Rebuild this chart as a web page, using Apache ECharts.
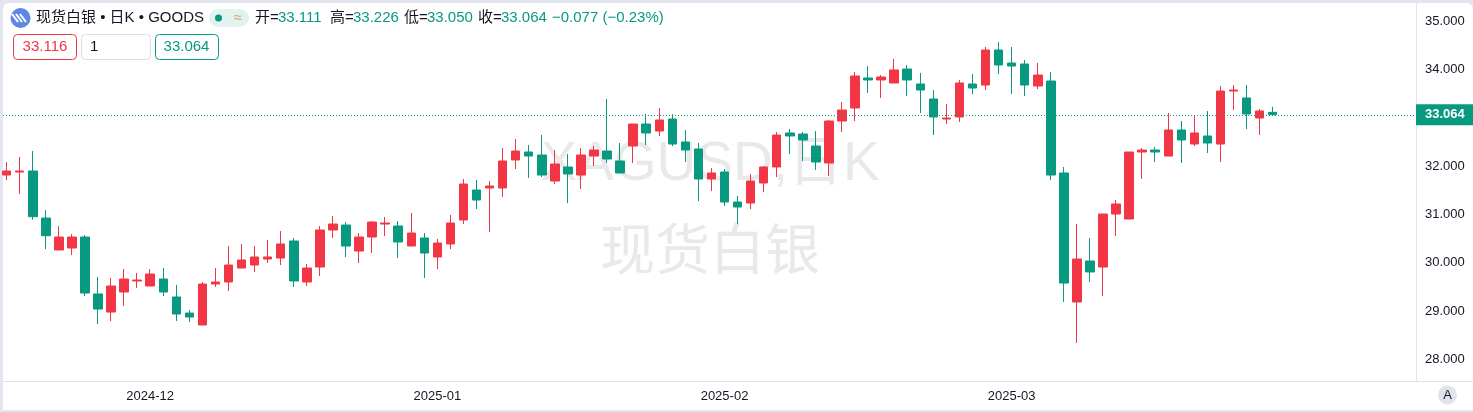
<!DOCTYPE html>
<html>
<head>
<meta charset="utf-8">
<title>现货白银</title>
<script src="https://cdn.jsdelivr.net/npm/echarts@6/dist/echarts.min.js"></script>
<style>
    html, body { margin: 0; padding: 0; width: 1473px; height: 412px; overflow: hidden; background: #e3e6ef; }
    #card { position: absolute; left: 3px; top: 3px; width: 1470px; height: 407px; background: #fff; border-radius: 6px 6px 0 0; }
    #chart { position: absolute; left: 0; top: 0; width: 1473px; height: 412px; }
</style>
</head>
<body>
<div id="card"></div>
<div id="chart"></div>
<script>
const opens = [
    31.815, 31.877, 31.898, 30.926, 30.265, 30.306, 30.533, 29.355, 28.982, 29.396,
    29.624, 29.520, 29.665, 29.293, 28.961, 28.714, 29.561, 29.603, 29.892, 29.954,
    30.078, 30.099, 30.451, 29.603, 29.913, 30.678, 30.781, 30.244, 30.533, 30.802,
    30.761, 30.347, 30.513, 30.120, 30.389, 30.885, 31.505, 31.547, 31.547, 32.126,
    32.291, 32.229, 31.691, 31.981, 31.815, 32.208, 32.312, 32.105, 32.415, 32.870,
    32.725, 32.973, 32.498, 32.353, 31.733, 31.877, 31.257, 31.236, 31.650, 31.981,
    32.684, 32.663, 32.415, 32.063, 32.932, 33.201, 33.821, 33.780, 33.718, 34.007,
    33.697, 33.387, 32.973, 33.015, 33.697, 33.676, 34.400, 34.131, 34.111, 33.656,
    33.759, 31.857, 29.189, 30.037, 29.913, 31.009, 30.906, 32.291, 32.332, 32.208,
    32.746, 32.456, 32.622, 32.456, 33.552, 33.408, 32.994, 33.111
];
const closes = [
    31.898, 31.898, 30.953, 30.560, 30.533, 30.533, 29.375, 29.044, 29.520, 29.665,
    29.644, 29.768, 29.396, 28.941, 28.879, 29.561, 29.603, 29.954, 30.058, 30.120,
    30.120, 30.389, 29.624, 29.892, 30.678, 30.802, 30.347, 30.533, 30.843, 30.823,
    30.430, 30.616, 30.203, 30.409, 30.823, 31.629, 31.298, 31.588, 32.105, 32.312,
    32.208, 31.815, 32.043, 31.836, 32.229, 32.332, 32.146, 31.857, 32.870, 32.684,
    32.953, 32.456, 32.332, 31.733, 31.857, 31.257, 31.154, 31.691, 31.981, 32.642,
    32.622, 32.539, 32.084, 32.932, 33.159, 33.862, 33.780, 33.842, 33.987, 33.780,
    33.573, 33.015, 32.994, 33.718, 33.614, 34.400, 34.090, 34.069, 33.676, 33.883,
    31.815, 29.582, 30.078, 29.810, 31.009, 31.216, 32.291, 32.332, 32.291, 32.746,
    32.539, 32.684, 32.477, 33.552, 33.573, 33.077, 33.139, 33.064
];
const lows = [
    31.712, 31.422, 30.891, 30.285, 30.265, 30.161, 29.313, 28.734, 28.796, 29.107,
    29.479, 29.520, 29.313, 28.796, 28.776, 28.714, 29.499, 29.417, 29.892, 29.810,
    29.996, 29.954, 29.499, 29.520, 29.727, 30.513, 30.120, 29.996, 30.203, 30.554,
    30.099, 30.347, 29.686, 29.872, 30.285, 30.802, 31.112, 30.637, 31.361, 31.940,
    31.753, 31.774, 31.629, 31.236, 31.526, 32.001, 32.063, 31.857, 32.063, 32.436,
    32.622, 32.415, 32.084, 31.278, 31.484, 31.174, 30.802, 31.112, 31.464, 31.774,
    32.250, 32.105, 31.919, 31.795, 32.705, 32.932, 33.511, 33.408, 33.718, 33.449,
    33.097, 32.642, 32.870, 32.911, 33.490, 33.573, 33.904, 33.490, 33.449, 33.594,
    31.712, 29.189, 28.341, 29.603, 29.313, 30.554, 30.906, 31.733, 32.084, 32.208,
    32.063, 32.415, 32.270, 32.084, 33.159, 32.767, 32.642, 33.050
];
const highs = [
    32.084, 32.188, 32.312, 31.092, 30.761, 30.595, 30.575, 29.706, 29.686, 29.872,
    29.789, 29.872, 29.892, 29.541, 29.024, 29.603, 29.892, 30.347, 30.389, 30.347,
    30.471, 30.657, 30.513, 29.975, 30.761, 30.968, 30.843, 30.616, 30.864, 30.947,
    30.864, 31.030, 30.616, 30.492, 30.988, 31.733, 31.712, 31.691, 32.374, 32.560,
    32.436, 32.642, 32.332, 32.250, 32.374, 32.415, 33.387, 32.477, 32.870, 33.077,
    33.201, 33.077, 32.746, 32.477, 31.960, 31.940, 31.381, 31.836, 32.001, 32.705,
    32.767, 32.705, 32.725, 32.953, 33.325, 33.945, 34.069, 33.883, 34.214, 34.090,
    33.925, 33.573, 33.284, 33.780, 33.904, 34.462, 34.566, 34.462, 34.193, 34.131,
    33.945, 31.981, 30.802, 30.513, 31.009, 31.298, 32.291, 32.374, 32.394, 33.097,
    32.932, 33.035, 33.139, 33.656, 33.676, 33.676, 33.180, 33.226
];
const priceTicks = [28, 29, 30, 31, 32, 33, 34, 35];
const monthTickIndex = [11, 33, 55, 77];
const monthTickLabels = ["2024-12", "2025-01", "2025-02", "2025-03"];
const lastPrice = 33.064;

const UP = "#F23645";
const DOWN = "#089981";
const INK = "#131722";
const LINE = "#e0e3eb";
const FONT = "'Liberation Sans','Noto Sans CJK SC',sans-serif";

function label(x, y, text, fill, size, align) {
    return {
        type: "text",
        z: 10,
        style: {
            x: x,
            y: y,
            text: text,
            fill: fill,
            font: (size || 15) + "px " + FONT,
            textAlign: align || "left",
            textVerticalAlign: "middle"
        }
    };
}

function box(x, y, w, h, stroke) {
    return {
        type: "rect",
        z: 9,
        shape: { x: x + 0.5, y: y + 0.5, width: w, height: h, r: 4 },
        style: { fill: "#fff", stroke: stroke, lineWidth: 1 }
    };
}

function logoStripe(x) {
    return {
        type: "line",
        z: 10,
        shape: { x1: x, y1: 14, x2: x + 6, y2: 22 },
        style: { stroke: "#fff", lineWidth: 2 }
    };
}

const header = [
    { type: "circle", z: 9, shape: { cx: 20.5, cy: 18, r: 10 }, style: { fill: "#5d87e3" } },
    logoStripe(12), logoStripe(16), logoStripe(20),
    label(36, 18, "现货白银 • 日K • GOODS", INK),
    { type: "rect", z: 9, shape: { x: 209, y: 9, width: 40, height: 18, r: 9 }, style: { fill: "#e0f3ef" } },
    { type: "circle", z: 10, shape: { cx: 218.5, cy: 18, r: 3.5 }, style: { fill: DOWN } },
    label(238, 18, "≈", "#e8935e", 14, "center"),
    label(255, 18, "开=", INK), label(278, 18, "33.111", DOWN),
    label(330, 18, "高=", INK), label(353, 18, "33.226", DOWN),
    label(404, 18, "低=", INK), label(427, 18, "33.050", DOWN),
    label(478, 18, "收=", INK), label(501, 18, "33.064", DOWN),
    label(552, 18, "−0.077 (−0.23%)", DOWN),
    box(13, 34, 63, 25, UP), label(45, 47, "33.116", UP, 15, "center"),
    box(81, 34, 69, 25, "#d9dde5"), label(90, 47, "1", INK, 15),
    box(155, 34, 63, 25, DOWN), label(186.5, 47, "33.064", DOWN, 15, "center")
];

const watermark = [
    {
        type: "text", z: 0,
        style: { x: 710, y: 165, text: "XAGUSD,日K", fill: "#e8e9eb", font: "55px " + FONT, textAlign: "center", textVerticalAlign: "middle" }
    },
    {
        type: "text", z: 0,
        style: { x: 710, y: 254, text: "现货白银", fill: "#e8e9eb", font: "55px " + FONT, textAlign: "center", textVerticalAlign: "middle" }
    }
];

const footer = [
    { type: "line", z: 5, shape: { x1: 1416, y1: 381.5, x2: 1473, y2: 381.5 }, style: { stroke: LINE, lineWidth: 1 } },
    { type: "circle", z: 9, shape: { cx: 1447.5, cy: 395, r: 9.5 }, style: { fill: LINE } },
    label(1447.5, 395, "A", INK, 13, "center")
];

const candles = opens.map((open, i) => [i, open, closes[i], lows[i], highs[i]]);

const chart = echarts.init(document.getElementById("chart"), null, { renderer: "canvas" });

chart.setOption({
    animation: false,
    backgroundColor: "transparent",
    textStyle: { fontFamily: FONT },
    grid: { left: 3, right: 57, top: 3, bottom: 31 },
    xAxis: {
        type: "value",
        min: -0.28,
        max: 107.98,
        splitLine: { show: false },
        axisLine: { show: true, onZero: false, lineStyle: { color: LINE } },
        axisTick: { show: false, customValues: monthTickIndex },
        axisLabel: {
            customValues: monthTickIndex,
            color: INK,
            fontSize: 13,
            margin: 9,
            formatter: (value) => monthTickLabels[monthTickIndex.indexOf(value)] || ""
        }
    },
    yAxis: {
        type: "value",
        position: "right",
        min: 27.556,
        max: 35.372,
        splitLine: { show: false },
        axisLine: { show: true, onZero: false, lineStyle: { color: LINE } },
        axisTick: { show: false, customValues: priceTicks },
        axisLabel: {
            customValues: priceTicks,
            color: INK,
            fontSize: 13,
            margin: 9,
            formatter: (value) => value.toFixed(3)
        }
    },
    series: [
        {
            type: "candlestick",
            data: candles,
            barWidth: 9,
            itemStyle: {
                color: UP,
                color0: DOWN,
                borderColor: UP,
                borderColor0: DOWN,
                borderWidth: 1
            },
            markLine: {
                silent: true,
                symbol: "none",
                animation: false,
                lineStyle: { color: DOWN, type: [1, 2], width: 1 },
                label: {
                    position: "end",
                    distance: 0,
                    formatter: () => lastPrice.toFixed(3),
                    color: "#fff",
                    fontWeight: "bold",
                    fontSize: 13,
                    backgroundColor: DOWN,
                    padding: [4, 9, 4, 9]
                },
                data: [{ yAxis: lastPrice }]
            }
        }
    ],
    graphic: { elements: [...watermark, ...header, ...footer] }
});
</script>
</body>
</html>
